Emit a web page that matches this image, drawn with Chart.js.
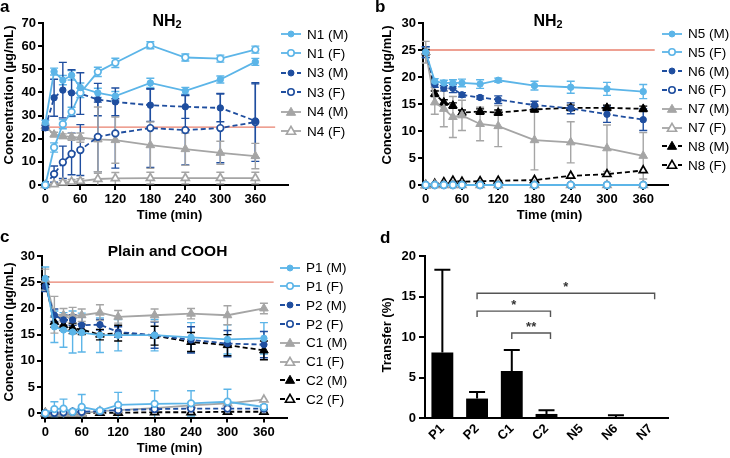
<!DOCTYPE html>
<html>
<head>
<meta charset="utf-8">
<script src="https://cdn.jsdelivr.net/npm/chart.js@4.4.1/dist/chart.umd.min.js"></script>
<style>
  body { margin: 0; background: #fff; }
  #page { position: relative; width: 730px; height: 458px; overflow: hidden; font-family: "Liberation Sans", Arial, sans-serif; color: #000; }
  #page canvas { position: absolute; }
  .txt { position: absolute; white-space: nowrap; line-height: 1; }
  .txt sub { font-size: 0.68em; vertical-align: -0.22em; line-height: 0; }
  .leg { position: absolute; display: flex; align-items: center; height: 16px; font-size: 13.5px; white-space: nowrap; }
  .leg svg { margin-right: 6px; flex: none; }
</style>
</head>
<body>
<div id="page">
  <canvas id="ca" width="365" height="225" style="left:0;top:0"></canvas>
  <canvas id="cb" width="370" height="225" style="left:360px;top:0"></canvas>
  <canvas id="cc" width="365" height="233" style="left:0;top:225px"></canvas>
  <canvas id="cd" width="370" height="233" style="left:360px;top:225px"></canvas>
</div>
<script>
// sampling times (min) and axis ticks
const times = [0, 15, 30, 45, 60, 90, 120, 180, 240, 300, 360];
const timeTicks = [0, 60, 120, 180, 240, 300, 360];
const limit = 25;

// panel a - NH2 (N1, N3, N4)
const n1M = [27, 49, 45.3, 47.4, 42.1, 39.8, 38.4, 44.1, 40.7, 45.6, 53.2];
const n1MErr = [1, 1.5, 2, 2, 2, 2, 2, 2, 1.5, 1.5, 1.5];
const n1F = [0, 16.2, 26.3, 31.6, 39.8, 48.9, 52.8, 60.4, 55.1, 54.6, 58.5];
const n1FErr = [0, 2, 2, 2, 2, 2, 2, 1.5, 1.5, 1.5, 1.5];
const n3M = [24.7, 37.7, 41, 39.8, 39.5, 36.9, 35.9, 34.5, 33.8, 33.3, 27.7];
const n3MErr = [1, 8, 12, 10, 9, 7, 6, 7, 5, 6, 16];
const n3F = [0, 4.7, 9.8, 13.4, 15.1, 20.8, 22.3, 24.6, 23.7, 24.6, 27.2];
const n3FErr = [0, 3.5, 7, 9, 11, 15, 15, 17, 15, 15, 17];
const n4M = [25.4, 21.8, 21.1, 20.8, 20.5, 19.7, 19.4, 17.2, 15.5, 13.9, 12.5];
const n4MErr = [1, 1, 1, 1.5, 2, 14, 10, 10, 7, 5, 5.5];
const n4F = [0, 0.3, 1, 1.4, 1.7, 2.6, 2.9, 3, 3, 3, 3];
const n4FErr = [0, 0.5, 1, 1, 1, 2.5, 2.5, 2.5, 2.5, 2.5, 2.5];

// panel b - NH2 (N5 - N8)
const n5M = [24.6, 19.2, 18.9, 18.9, 18.9, 18.7, 19.4, 18.4, 18.1, 17.8, 17.3];
const n5MErr = [1, 0.5, 0.5, 0.6, 0.7, 0.8, 0.4, 0.8, 1.1, 1.2, 1.3];
const n5F = [0, 0, 0, 0, 0, 0, 0, 0, 0, 0, 0];
const n6M = [24.6, 18.6, 17.9, 17.9, 16.7, 16.2, 15.8, 14.8, 14.2, 13.1, 12.1];
const n6MErr = [1, 0.5, 0.5, 0.8, 0.4, 0.3, 0.7, 0.7, 1, 1.5, 2];
const n6F = [0, 0, 0, 0, 0, 0, 0, 0, 0, 0, 0];
const n7M = [24.6, 15.3, 14.1, 12.6, 12.9, 11.3, 10.9, 8.3, 7.9, 6.8, 5.4];
const n7MErr = [2, 2.2, 3.3, 3.8, 2.8, 3.1, 3.8, 5.5, 3.8, 4.3, 4.3];
const n7F = [0, 0, 0, 0, 0, 0, 0, 0, 0, 0, 0];
const n8M = [24.6, 16.9, 15.3, 14.7, 13.4, 13.6, 13.4, 14.0, 14.3, 14.3, 14.1];
const n8MErr = [0.5, 0.5, 0.5, 0.5, 0.5, 0.5, 0.5, 0.5, 0.5, 0.5, 0.5];
const n8F = [0, 0.2, 0.5, 0.8, 0.6, 0.7, 0.8, 0.9, 1.7, 2.0, 2.7];

// panel c - plain and COOH
const p1M = [25.7, 16.5, 15.9, 15.5, 15.4, 14.9, 14.9, 14.9, 14.5, 14.1, 14.3];
const p1MErr = [2.2, 3, 3.3, 4, 3.7, 3.3, 3, 3, 2.8, 2.8, 3];
const p1F = [0, 0.8, 0.9, 0.3, 1.2, 0.5, 1.6, 1.8, 1.9, 2.2, 1.2];
const p1FErr = [0, 1.4, 1.8, 0.3, 2.4, 0.3, 2.4, 2.5, 2.4, 2.4, 0.4];
const p2M = [24.2, 18.7, 17.8, 17.8, 16.8, 16.9, 15.5, 14.9, 14.0, 13.3, 13.1];
const p2MErr = [1, 1.2, 1, 1, 1.5, 1, 1, 2.5, 2.5, 2.5, 2.5];
const p2F = [0, 0.1, 0.2, 0.3, 0.3, 0.4, 0.6, 0.8, 0.9, 0.9, 0.9];
const c1M = [25.5, 18.8, 18.7, 18.6, 18.7, 19.2, 18.4, 18.7, 19.0, 18.7, 20.0];
const c1MErr = [2, 3.5, 1.3, 1.6, 1.2, 1.5, 1.2, 1.2, 1, 1.8, 1];
const c1F = [0, 0, 0, 0, 0, 0.4, 0.6, 1.0, 1.5, 1.9, 2.6];
const c2M = [25, 17.4, 16.8, 16.2, 16.0, 15.0, 15.3, 14.8, 13.6, 13.0, 12.0];
const c2MErr = [1, 1, 1, 1, 1, 1, 1.5, 1.8, 1.8, 2, 1.8];
const c2F = [0, 0, 0, 0, 0, 0.1, 0.1, 0.2, 0.2, 0.3, 0.3];

// panel d - transfer
const transferCats = ['P1', 'P2', 'C1', 'C2', 'N5', 'N6', 'N7'];
const transferVals = [8.1, 2.4, 5.8, 0.5, 0.05, 0.05, 0.03];
const transferErr = [10.2, 0.8, 2.6, 0.45, 0, 0.3, 0];
const sigPairs = [['P2', 'N7'], ['P2', 'C2'], ['C1', 'C2']];
const sigLevels = [15.4, 13.2, 10.5];
const sigMarks = ['*', '*', '**'];

const LIGHT = '#5cb5e8', DARK = '#1f4e9f', GREY = '#a5a5a5', BLACK = '#000', RED = '#e8806e';
const FONT = '"Liberation Sans", Arial, sans-serif';
const tickFont = { family: FONT, size: 13, weight: 'bold' };

function series(label, vals, errs, color, filled, shape, dashed) {
  const tri = shape === 'triangle';
  return {
    label, errors: errs, sym: { color, filled, shape, dashed },
    data: vals.map((v, i) => ({ x: times[i], y: v })),
    borderColor: color, backgroundColor: color, borderWidth: 1.8,
    borderDash: dashed ? [5, 3] : [],
    pointStyle: shape,
    pointRadius: tri ? (filled ? 5 : 4.6) : (filled ? 3.2 : 3.3),
    pointBorderWidth: filled ? 1 : 1.7,
    pointBorderColor: color,
    pointBackgroundColor: filled ? color : '#fff',
    fill: false, tension: 0, clip: false
  };
}

// vertical error bars with caps, read from dataset.errors
const errorBars = {
  id: 'errorBars',
  beforeDatasetsDraw(chart) {
    const { ctx, chartArea, scales: { y } } = chart;
    chart.data.datasets.forEach((ds, di) => {
      if (!ds.errors) return;
      const meta = chart.getDatasetMeta(di);
      ctx.save();
      ctx.strokeStyle = ds.errorColor || ds.borderColor;
      ctx.lineWidth = ds.errorWidth || 1.4;
      meta.data.forEach((el, i) => {
        const e = ds.errors[i];
        if (!e) return;
        const raw = ds.data[i];
        const val = typeof raw === 'object' ? raw.y : raw;
        const half = ds.capHalf || 4;
        const top = y.getPixelForValue(val + e);
        const bot = ds.upOnly ? y.getPixelForValue(val) : Math.min(y.getPixelForValue(val - e), chartArea.bottom);
        ctx.beginPath();
        ctx.moveTo(el.x, top); ctx.lineTo(el.x, bot);
        ctx.moveTo(el.x - half, top); ctx.lineTo(el.x + half, top);
        if (!ds.upOnly && bot < chartArea.bottom - 1) { ctx.moveTo(el.x - half, bot); ctx.lineTo(el.x + half, bot); }
        ctx.stroke();
      });
      ctx.restore();
    });
  }
};

// horizontal reference line at the dose level
const limitLine = {
  id: 'limitLine',
  beforeDatasetsDraw(chart, args, opts) {
    const { ctx, chartArea, scales: { x, y } } = chart;
    const py = y.getPixelForValue(opts.value);
    ctx.save();
    ctx.strokeStyle = opts.color; ctx.lineWidth = 1.3;
    ctx.beginPath(); ctx.moveTo(chartArea.left, py); ctx.lineTo(x.getPixelForValue(opts.end), py); ctx.stroke();
    ctx.restore();
  }
};

// significance brackets for panel d
const sigBrackets = {
  id: 'sigBrackets',
  afterDatasetsDraw(chart) {
    const { ctx, scales: { x, y } } = chart;
    ctx.save();
    ctx.strokeStyle = '#555'; ctx.fillStyle = '#333'; ctx.lineWidth = 1.4;
    ctx.font = 'bold 13px ' + FONT; ctx.textAlign = 'center';
    sigPairs.forEach(([a, b], i) => {
      const x1 = x.getPixelForValue(transferCats.indexOf(a));
      const x2 = x.getPixelForValue(transferCats.indexOf(b)) + 4;
      const py = y.getPixelForValue(sigLevels[i]);
      ctx.beginPath();
      ctx.moveTo(x1, py + 6); ctx.lineTo(x1, py); ctx.lineTo(x2, py); ctx.lineTo(x2, py + 6);
      ctx.stroke();
      ctx.fillText(sigMarks[i], (x1 + x2) / 2, py - 2);
    });
    ctx.restore();
  }
};

function lineChart(id, g, datasets, yr, xr) {
  return new Chart(document.getElementById(id), {
    type: 'line',
    data: { datasets },
    plugins: [limitLine, errorBars],
    options: {
      responsive: false, animation: false, events: [],
      layout: { padding: { left: 0, top: g.top, right: g.w - g.right, bottom: 0 } },
      plugins: { legend: { display: false }, tooltip: { enabled: false },
        limitLine: { value: limit, end: xr.red, color: RED } },
      scales: {
        x: {
          type: 'linear', min: xr.min, max: xr.max,
          afterBuildTicks: s => { s.ticks = timeTicks.map(v => ({ value: v })); },
          afterFit: s => { s.height = g.h - g.bottom; },
          ticks: { font: tickFont, color: '#000', padding: 2, maxRotation: 0, autoSkip: false },
          grid: { drawOnChartArea: false, tickLength: 5, lineWidth: 2, color: '#000' },
          border: { color: '#000', width: 2 }
        },
        y: {
          min: yr.min, max: yr.max,
          afterBuildTicks: s => { s.ticks = yr.ticks.map(v => ({ value: v })); },
          afterFit: s => { s.width = g.left; },
          ticks: { font: tickFont, color: '#000', padding: 2, autoSkip: false },
          grid: { drawOnChartArea: false, tickLength: 5, lineWidth: 2, color: '#000' },
          border: { color: '#000', width: 2 }
        }
      }
    }
  });
}

const dsA = [
  series('N1 (M)', n1M, n1MErr, LIGHT, true, 'circle', false),
  series('N1 (F)', n1F, n1FErr, LIGHT, false, 'circle', false),
  series('N3 (M)', n3M, n3MErr, DARK, true, 'circle', true),
  series('N3 (F)', n3F, n3FErr, DARK, false, 'circle', true),
  series('N4 (M)', n4M, n4MErr, GREY, true, 'triangle', false),
  series('N4 (F)', n4F, n4FErr, GREY, false, 'triangle', false)
];
const dsB = [
  series('N5 (M)', n5M, n5MErr, LIGHT, true, 'circle', false),
  series('N5 (F)', n5F, null, LIGHT, false, 'circle', false),
  series('N6 (M)', n6M, n6MErr, DARK, true, 'circle', true),
  series('N6 (F)', n6F, null, DARK, false, 'circle', true),
  series('N7 (M)', n7M, n7MErr, GREY, true, 'triangle', false),
  series('N7 (F)', n7F, null, GREY, false, 'triangle', false),
  series('N8 (M)', n8M, n8MErr, BLACK, true, 'triangle', true),
  series('N8 (F)', n8F, null, BLACK, false, 'triangle', true)
];
const dsC = [
  series('P1 (M)', p1M, p1MErr, LIGHT, true, 'circle', false),
  series('P1 (F)', p1F, p1FErr, LIGHT, false, 'circle', false),
  series('P2 (M)', p2M, p2MErr, DARK, true, 'circle', true),
  series('P2 (F)', p2F, null, DARK, false, 'circle', true),
  series('C1 (M)', c1M, c1MErr, GREY, true, 'triangle', false),
  series('C1 (F)', c1F, null, GREY, false, 'triangle', false),
  series('C2 (M)', c2M, c2MErr, BLACK, true, 'triangle', true),
  series('C2 (F)', c2F, null, BLACK, false, 'triangle', true)
];

lineChart('ca', { w: 365, h: 225, left: 43, right: 288, top: 23, bottom: 185 }, dsA,
  { min: 0, max: 70, ticks: [0, 10, 20, 30, 40, 50, 60, 70] }, { min: -4, max: 416, red: 394 });
lineChart('cb', { w: 370, h: 225, left: 63, right: 308, top: 23, bottom: 185 }, dsB,
  { min: 0, max: 30, ticks: [0, 5, 10, 15, 20, 25, 30] }, { min: -4.5, max: 401, red: 379 });
lineChart('cc', { w: 365, h: 233, left: 42, right: 287, top: 31, bottom: 192.5 }, dsC,
  { min: -0.8, max: 30, ticks: [0, 5, 10, 15, 20, 25, 30] }, { min: -5.4, max: 398, red: 376 });

new Chart(document.getElementById('cd'), {
  type: 'bar',
  data: {
    labels: transferCats,
    datasets: [{
      label: 'Transfer (%)', data: transferVals, errors: transferErr,
      upOnly: true, capHalf: 8, errorWidth: 2, errorColor: '#000',
      backgroundColor: '#000', borderWidth: 0, barPercentage: 0.63, categoryPercentage: 1
    }]
  },
  plugins: [errorBars, sigBrackets],
  options: {
    responsive: false, animation: false, events: [],
    layout: { padding: { left: 0, top: 31, right: 370 - 308, bottom: 0 } },
    plugins: { legend: { display: false }, tooltip: { enabled: false } },
    scales: {
      x: {
        afterFit: s => { s.height = 233 - 193; },
        ticks: { font: tickFont, color: '#000', padding: 3, minRotation: 45, maxRotation: 45, autoSkip: false },
        grid: { display: false, drawTicks: false },
        border: { color: '#000', width: 2 }
      },
      y: {
        min: 0, max: 20,
        afterFit: s => { s.width = 65; },
        ticks: { font: tickFont, color: '#000', padding: 3, stepSize: 5 },
        grid: { drawOnChartArea: false, tickLength: 6, lineWidth: 2, color: '#000' },
        border: { color: '#000', width: 2 }
      }
    }
  }
});

// text: panel letters, titles, axis titles (HTML)
const page = document.getElementById('page');
function put(html, x, base, size, bold, center) {
  const d = document.createElement('div');
  d.className = 'txt';
  d.innerHTML = html;
  d.style.fontSize = size + 'px';
  d.style.fontWeight = bold ? 'bold' : 'normal';
  d.style.left = x + 'px';
  d.style.top = (base - 0.8465 * size) + 'px';
  if (center) d.style.transform = 'translateX(-50%)';
  page.appendChild(d);
}
function putV(text, cx, cy, size) {
  const d = document.createElement('div');
  d.className = 'txt';
  d.textContent = text;
  d.style.fontSize = size + 'px';
  d.style.fontWeight = 'bold';
  d.style.left = cx + 'px';
  d.style.top = cy + 'px';
  d.style.transform = 'translate(-50%, -50%) rotate(-90deg)';
  page.appendChild(d);
}
function legend(datasets, x, y0, dy) {
  datasets.forEach((ds, i) => {
    const s = ds.sym;
    const fill = s.filled ? s.color : '#fff';
    const sw = s.filled ? 1 : 1.6;
    const dash = s.dashed ? ' stroke-dasharray="5 3"' : '';
    const mark = s.shape === 'triangle'
      ? `<polygon points="10,1.3 14.6,9.3 5.4,9.3" fill="${fill}" stroke="${s.color}" stroke-width="${sw}"/>`
      : `<circle cx="10" cy="6" r="${s.filled ? 3 : 3.2}" fill="${fill}" stroke="${s.color}" stroke-width="${sw}"/>`;
    const row = document.createElement('div');
    row.className = 'leg';
    row.style.left = x + 'px';
    row.style.top = (y0 + i * dy - 8) + 'px';
    row.innerHTML = `<svg width="20" height="12"><line x1="0" y1="6" x2="20" y2="6" stroke="${s.color}" stroke-width="1.8"${dash}/>${mark}</svg><span>${ds.label}</span>`;
    page.appendChild(row);
  });
}

put('a', 0, 12, 17, true);
put('b', 375, 12, 17, true);
put('c', 0, 242, 17, true);
put('d', 380, 243, 17, true);
put('NH<sub>2</sub>', 167, 26.5, 16, true, true);
put('NH<sub>2</sub>', 548, 26.5, 16, true, true);
put('Plain and COOH', 167.5, 256, 15.5, true, true);
putV('Concentration (µg/mL)', 7.5, 95, 13);
putV('Concentration (µg/mL)', 386, 95, 13);
putV('Concentration (µg/mL)', 7.5, 332, 13);
putV('Transfer (%)', 386, 335, 13);
put('Time (min)', 169.5, 219, 13, true, true);
put('Time (min)', 549.5, 219, 13, true, true);
put('Time (min)', 169.5, 452, 13, true, true);

legend(dsA, 281, 34, 19.4);
legend(dsB, 662, 33.5, 18.8);
legend(dsC, 280, 267.7, 18.77);
</script>
</body>
</html>
